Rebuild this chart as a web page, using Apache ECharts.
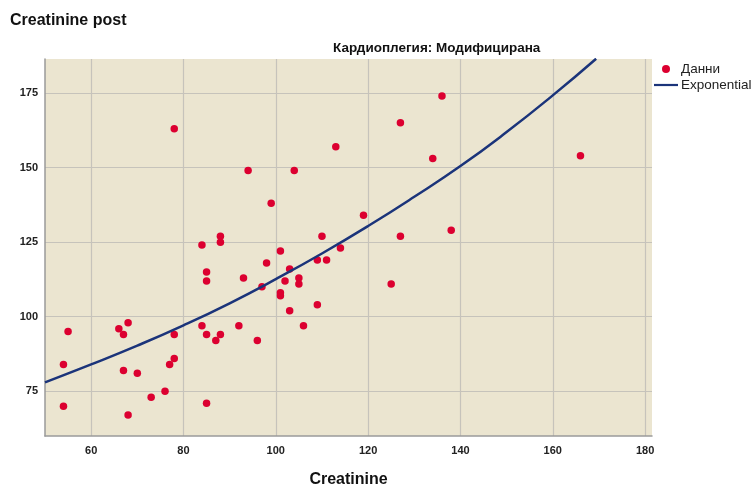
<!DOCTYPE html>
<html>
<head>
<meta charset="utf-8">
<script src="https://cdn.jsdelivr.net/npm/echarts@6/dist/echarts.min.js"></script>
<style>
html,body{margin:0;padding:0;background:#fff;}
#c{width:752px;height:486px;}
</style>
</head>
<body>
<div id="c"></div>
<script>
// Scatter data: Creatinine (x) vs Creatinine post (y)
const creatinine = [54,54,55,66,67,68,67,70,68,73,76,77,78,78,78,84,84,85,85,85,85,87,88,88,88,92,93,94,96,97,98,99,101,101,101,102,103,103,104,105,105,106,109,109,110,111,113,114,119,125,127,127,134,136,138,166];
const creatininePost = [70,84,95,96,94,98,82,81,67,73,75,84,86,94,163,97,124,71,94,112,115,92,94,125,127,97,113,149,92,110,118,138,107,108,122,112,102,116,149,111,113,97,104,119,127,119,157,123,134,111,127,165,153,174,129,154];
// Exponential fit curve
const fitX = [50,60,70,80,90,100,110,120,130,140,150,160,169.4];
const fitY = [78,84,90.3,97.1,104.5,112.6,121.2,130.4,140.2,150.5,161.9,174.2,186.5];
// Tick labels
const xTicks = [60,80,100,120,140,160,180];
const yTicks = [75,100,125,150,175];

const titleText = 'Creatinine post';
const subTitle = 'Кардиоплегия: Модифицирана';
const xName = 'Creatinine';
const legendNames = ['Данни','Exponential'];

const chart = echarts.init(document.getElementById('c'), null, {renderer:'canvas'});
const font = 'Liberation Sans, Arial, sans-serif';
const option = {
  animation:false,
  backgroundColor:'#ffffff',
  title:[
    {text:titleText,left:5,top:8,textStyle:{fontFamily:font,fontSize:16,fontWeight:'bold',color:'#111'}},
    {text:subTitle,left:328,top:36,textStyle:{fontFamily:font,fontSize:13.5,fontWeight:'bold',color:'#111'}}
  ],
  legend:{
    orient:'vertical',left:649,top:57,itemGap:2,itemWidth:24,itemHeight:8,
    textStyle:{fontFamily:font,fontSize:13.5,color:'#222',padding:[0,0,0,-2]},
    data:[{name:legendNames[0],icon:'circle',itemStyle:{color:'#dc0030'}},
          {name:legendNames[1],icon:'path://M0,3L24,3L24,5.2L0,5.2Z'}]
  },
  grid:{left:45,right:100,top:59,bottom:50,show:true,backgroundColor:'#ebe5d0',borderWidth:0,
        containLabel:false,outerBoundsMode:'none'},
  xAxis:{
    type:'value',min:50,max:181.5,
    name:xName,nameLocation:'middle',nameGap:36,
    nameTextStyle:{fontFamily:font,fontSize:16,fontWeight:'bold',color:'#111'},
    axisLine:{show:true,lineStyle:{color:'#9a9a9a',width:1.5}},
    axisTick:{show:false,customValues:xTicks},
    axisLabel:{customValues:xTicks,fontFamily:font,fontSize:11,fontWeight:'bold',color:'#222',margin:9},
    splitLine:{show:true,lineStyle:{color:'#c6c3bb',width:1.2}}
  },
  yAxis:{
    type:'value',min:60,max:186.4,
    axisLine:{show:true,lineStyle:{color:'#9a9a9a',width:1.5}},
    axisTick:{show:false,customValues:yTicks},
    axisLabel:{customValues:yTicks,fontFamily:font,fontSize:11,fontWeight:'bold',color:'#222',margin:7},
    splitLine:{show:true,lineStyle:{color:'#c6c3bb',width:1.2}}
  },
  series:[
    {name:legendNames[0],type:'scatter',symbol:'circle',symbolSize:7.5,
     itemStyle:{color:'#dc0030',opacity:1},
     data:creatinine.map((x,i)=>[x,creatininePost[i]]),z:3},
    {name:legendNames[1],type:'line',smooth:true,showSymbol:false,symbol:'none',
     lineStyle:{color:'#1b347a',width:2.5},itemStyle:{color:'#1b347a'},
     data:fitX.map((x,i)=>[x,fitY[i]]),z:4}
  ]
};
chart.setOption(option);
</script>
</body>
</html>
